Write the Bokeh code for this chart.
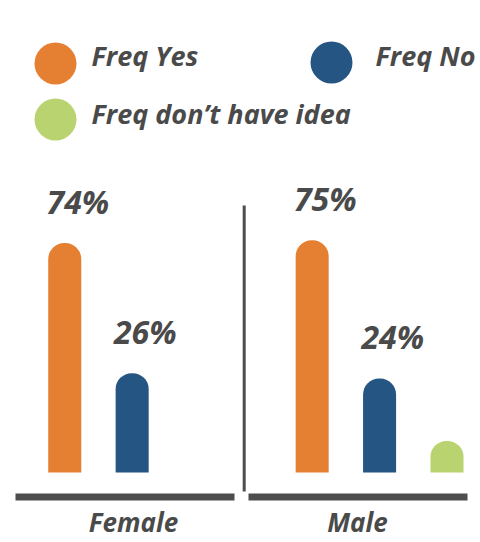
from bokeh.plotting import figure
from bokeh.models import FactorRange, Range1d, ColumnDataSource
from bokeh.transform import dodge
from bokeh.core.properties import value
from bokeh.embed import file_html
from bokeh.resources import INLINE

# ---------------- data ----------------
genders = ["Female", "Male"]
responses = ["Freq Yes", "Freq No", "Freq don’t have idea"]
female = [74, 26, 0]
male = [75, 24, 1]
labelled = ["Freq Yes", "Freq No"]

colors = ["#E58033", "#255582", "#B9D371"]
TEXT = "#4a4a4a"
GRAY = "#4d4d4d"
FONT = value("Open Sans")

W, H = 480, 542

factors = [(g, r) for g in genders for r in responses]
GP, RP = 0.67, 0.225
x_range = FactorRange(*factors, group_padding=GP, range_padding=RP,
                      range_padding_units="absolute")
X0, X1 = -RP, len(factors) + GP + RP
BASE = -10.7
Y0, Y1 = -36.5, 163.5
y_range = Range1d(Y0, Y1)


def px(x):
    """canvas pixel x -> synthetic x coordinate (layout helper)"""
    return X0 + x * (X1 - X0) / W


def py(y):
    """canvas pixel y (from top) -> y coordinate (layout helper)"""
    return Y1 - y * (Y1 - Y0) / H


p = figure(width=W, height=H, x_range=x_range, y_range=y_range,
           output_backend="svg", toolbar_location=None, min_border=0)
p.min_border_left = p.min_border_right = p.min_border_top = p.min_border_bottom = 0
p.axis.visible = False
p.grid.visible = False
p.outline_line_color = None

# bars
xs, tops, cols, labs, lab_x, lab_y = [], [], [], [], [], []
for g, vals in zip(genders, [female, male]):
    for r, v, c in zip(responses, vals, colors):
        if v > 0:
            xs.append((g, r)); tops.append(v); cols.append(c)
        if r in labelled:
            lab_x.append((g, r)); lab_y.append(v); labs.append(f"{v}%")

bars = ColumnDataSource(dict(x=xs, top=tops, color=cols))
SHIFT = 0.228
p.vbar(x=dodge("x", SHIFT, range=x_range), top="top", bottom=BASE, width=0.49,
       source=bars, fill_color="color", line_color=None,
       border_radius=(16, 16, 0, 0))

lsrc = ColumnDataSource(dict(x=lab_x, y=lab_y, text=labs))
p.text(x=dodge("x", SHIFT - 0.27, range=x_range), y="y", text="text", source=lsrc,
       text_font=FONT, text_font_style="bold italic", text_font_size="32px",
       text_color=TEXT, text_align="left", text_baseline="alphabetic", y_offset=-42)

# baselines and divider
p.segment(x0=[px(15), px(248)], y0=[py(496.5)] * 2, x1=[px(234), px(467)], y1=[py(496.5)] * 2,
          line_color=GRAY, line_width=7)
p.segment(x0=[px(243.7)], y0=[py(205)], x1=[px(243.7)], y1=[py(491)],
          line_color=GRAY, line_width=3)

# category labels
p.text(x=[px(133), px(357)], y=[py(521)] * 2, text=genders,
       text_font=FONT, text_font_style="bold italic", text_font_size="26px",
       text_color=TEXT, text_align="center", text_baseline="alphabetic")

# legend
p.scatter(x=[px(55), px(331), px(55)], y=[py(63), py(62), py(119)], size=42,
          fill_color=colors, line_color=None)
p.text(x=[px(91), px(375), px(91)], y=[py(55), py(55), py(113)], text=responses,
       text_font=FONT, text_font_style="bold italic", text_font_size="27px",
       text_color=TEXT, text_align="left", text_baseline="alphabetic")

open("out.html", "w").write(file_html(p, INLINE))
